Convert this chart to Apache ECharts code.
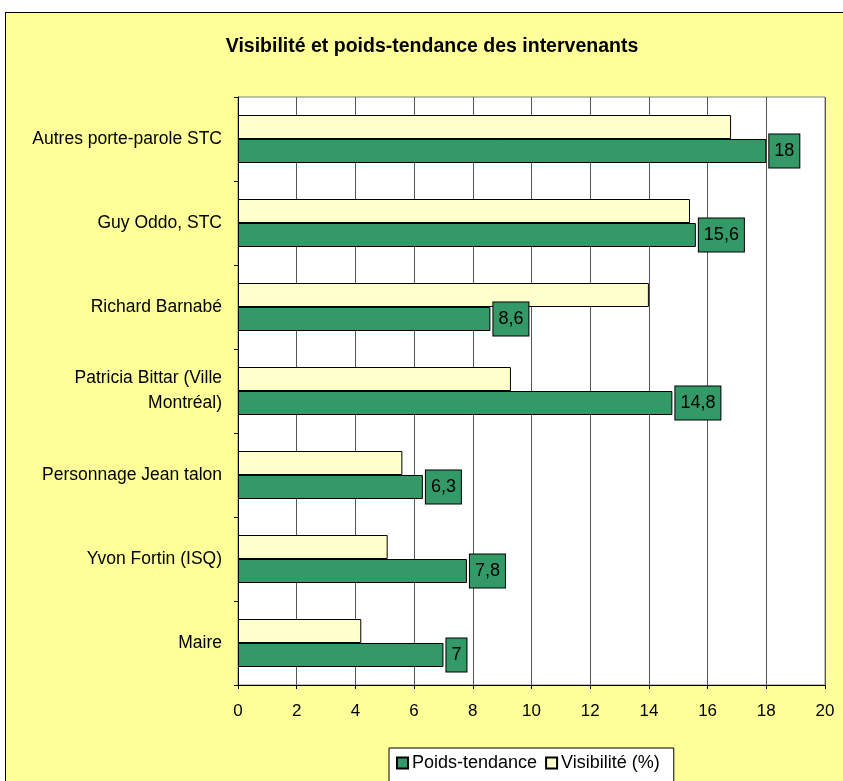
<!DOCTYPE html>
<html><head><meta charset="utf-8">
<script src="https://cdn.jsdelivr.net/npm/echarts@6/dist/echarts.min.js"></script>
<style>
html,body{margin:0;padding:0;background:#fff;}
#frame{position:absolute;left:5px;top:12px;width:860px;height:800px;background:#FFFF99;border:1px solid #000;box-sizing:border-box;}
#chart{position:absolute;left:0;top:0;width:843px;height:781px;}
</style></head>
<body>
<div id="frame"></div>
<div id="chart"></div>
<script>
const categories = ["Autres porte-parole STC","Guy Oddo, STC","Richard Barnabé","Patricia Bittar (Ville\nMontréal)","Personnage Jean talon","Yvon Fortin (ISQ)","Maire"];
const visibilite = [16.8, 15.4, 14.0, 9.3, 5.6, 5.1, 4.2];
const poids = [18, 15.6, 8.6, 14.8, 6.3, 7.8, 7];
const xTicks = {min:0, max:20, interval:2};

const FONT = 'Liberation Sans, Arial, sans-serif';
const chart = echarts.init(document.getElementById('chart'));
chart.setOption({
  backgroundColor: 'transparent',
  animation: false,
  textStyle: {fontFamily: FONT},
  title: {
    text: 'Visibilité et poids-tendance des intervenants',
    left: 427, top: 32, textAlign: 'center',
    textStyle: {fontSize: 19.5, fontWeight: 'bold', color: '#000', fontFamily: FONT}
  },
  legend: {
    data: ['Poids-tendance', 'Visibilité (%)'],
    left: 389, top: 748,
    backgroundColor: '#fff', borderColor: '#000', borderWidth: 1,
    padding: [6, 14, 12, 7],
    itemWidth: 11, itemHeight: 11, itemGap: 8,
    icon: 'rect',
    textStyle: {fontSize: 18, color: '#000', padding: [0,0,0,-1]}
  },
  grid: {left: 238, top: 97, width: 587, height: 588, show: true, backgroundColor: '#fff', borderColor: '#808080', borderWidth: 1},
  xAxis: {
    type: 'value', min: xTicks.min, max: xTicks.max, interval: xTicks.interval,
    axisLine: {show: true, lineStyle: {color: '#000'}},
    axisTick: {show: true, length: 4, lineStyle: {color: '#000'}},
    axisLabel: {fontSize: 17, color: '#000', margin: 18},
    splitLine: {show: true, lineStyle: {color: '#555', width: 1}}
  },
  yAxis: {
    type: 'category', data: categories, inverse: true,
    axisLine: {show: true, lineStyle: {color: '#000'}},
    axisTick: {show: true, length: 4, lineStyle: {color: '#000'}},
    axisLabel: {fontSize: 17.5, color: '#000', margin: 16, lineHeight: 25, align: 'right'},
    splitLine: {show: false}
  },
  series: [
    {
      name: 'Visibilité (%)', type: 'bar', data: visibilite,
      barWidth: 24, barGap: '0%',
      itemStyle: {color: '#FFFFCC', borderColor: '#000', borderWidth: 1}
    },
    {
      name: 'Poids-tendance', type: 'bar', data: poids,
      barWidth: 24, barGap: '0%',
      itemStyle: {color: '#339966', borderColor: '#000', borderWidth: 1},
      label: {
        show: true, position: 'right', distance: 3,
        formatter: p => String(p.value).replace('.', ','),
        fontSize: 18, color: '#000',
        backgroundColor: '#339966', borderColor: '#000', borderWidth: 1,
        padding: [8, 5, 7, 5]
      }
    }
  ]
});
</script>
</body></html>
